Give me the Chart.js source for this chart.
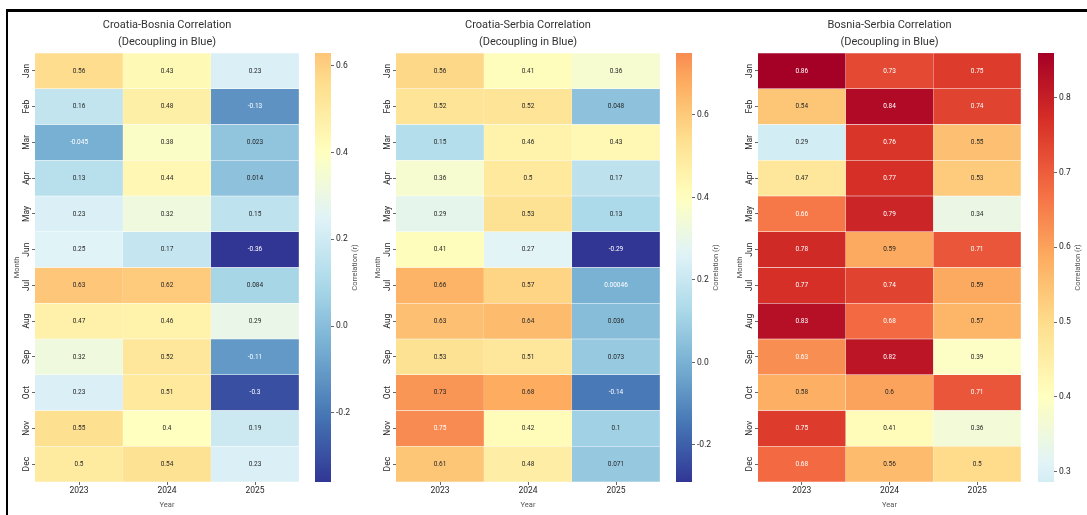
<!DOCTYPE html>
<html>
<head>
<meta charset="utf-8">
<script src="https://cdn.jsdelivr.net/npm/chart.js@4.4.1/dist/chart.umd.min.js"></script>
<style>
  body { margin: 0; background: #fff; }
  #page { position: relative; width: 1087px; height: 515px; overflow: hidden; }
  #frame { position: absolute; left: 6px; top: 9px; width: 1100px; height: 520px; border-top: 3px solid #000; border-left: 2px solid #000; }
  canvas { position: absolute; }
</style>
</head>
<body>
<div id="page">
  <div id="frame"></div>
  <canvas id="hm0"></canvas><canvas id="cb0"></canvas>
  <canvas id="hm1"></canvas><canvas id="cb1"></canvas>
  <canvas id="hm2"></canvas><canvas id="cb2"></canvas>
</div>
<script>
var months = ['Jan', 'Feb', 'Mar', 'Apr', 'May', 'Jun', 'Jul', 'Aug', 'Sep', 'Oct', 'Nov', 'Dec'];
var years = ['2023', '2024', '2025'];

// Croatia-Bosnia, one array per year (Jan..Dec)
var hrBa2023 = [0.56, 0.16, -0.045, 0.13, 0.23, 0.25, 0.63, 0.47, 0.32, 0.23, 0.55, 0.5];
var hrBa2024 = [0.43, 0.48, 0.38, 0.44, 0.32, 0.17, 0.62, 0.46, 0.52, 0.51, 0.4, 0.54];
var hrBa2025 = [0.23, -0.13, 0.023, 0.014, 0.15, -0.36, 0.084, 0.29, -0.11, -0.3, 0.19, 0.23];

// Croatia-Serbia
var hrRs2023 = [0.56, 0.52, 0.15, 0.36, 0.29, 0.41, 0.66, 0.63, 0.53, 0.73, 0.75, 0.61];
var hrRs2024 = [0.41, 0.52, 0.46, 0.5, 0.53, 0.27, 0.57, 0.64, 0.51, 0.68, 0.42, 0.48];
var hrRs2025 = [0.36, 0.048, 0.43, 0.17, 0.13, -0.29, 0.00046, 0.036, 0.073, -0.14, 0.1, 0.071];

// Bosnia-Serbia
var baRs2023 = [0.86, 0.54, 0.286, 0.47, 0.66, 0.78, 0.77, 0.83, 0.63, 0.58, 0.75, 0.68];
var baRs2024 = [0.73, 0.84, 0.76, 0.77, 0.79, 0.59, 0.74, 0.68, 0.82, 0.6, 0.41, 0.56];
var baRs2025 = [0.75, 0.74, 0.55, 0.53, 0.34, 0.71, 0.59, 0.57, 0.39, 0.71, 0.36, 0.5];

var titles = [
  ['Croatia-Bosnia Correlation', '(Decoupling in Blue)'],
  ['Croatia-Serbia Correlation', '(Decoupling in Blue)'],
  ['Bosnia-Serbia Correlation', '(Decoupling in Blue)']
];
var colorCenter = 0.4;

var panels = [
  { values: [hrBa2023, hrBa2024, hrBa2025], step: 0.2, left: 35, right: 299, barLeft: 315 },
  { values: [hrRs2023, hrRs2024, hrRs2025], step: 0.2, left: 396, right: 660, barLeft: 676 },
  { values: [baRs2023, baRs2024, baRs2025], step: 0.1, left: 758, right: 1021, barLeft: 1038 }
];

Chart.defaults.font.family = 'Roboto, "Open Sans", sans-serif';

// RdYlBu reversed
var cmapStops = ['#313695', '#4575b4', '#74add1', '#abd9e9', '#e0f3f8', '#ffffbf',
                 '#fee090', '#fdae61', '#f46d43', '#d73027', '#a50026'].map(function (h) {
  return [parseInt(h.substr(1, 2), 16), parseInt(h.substr(3, 2), 16), parseInt(h.substr(5, 2), 16)];
});

function cmap(t) {
  t = Math.max(0, Math.min(1, t));
  var x = t * 10, i = Math.min(9, Math.floor(x)), f = x - i;
  var a = cmapStops[i], b = cmapStops[i + 1];
  return [0, 1, 2].map(function (k) { return Math.round(a[k] + (b[k] - a[k]) * f); });
}

// same trick as seaborn's center=: symmetric range round the center, then cut to data range
function makeColorScale(vmin, vmax) {
  var vr = Math.max(vmax - colorCenter, colorCenter - vmin);
  return function (v) { return cmap(0.5 + (v - colorCenter) / (2 * vr)); };
}

function rgbStr(c) { return 'rgb(' + c[0] + ',' + c[1] + ',' + c[2] + ')'; }

function textColor(c) {
  var lin = c.map(function (v) {
    v = v / 255;
    return v <= 0.03928 ? v / 12.92 : Math.pow((v + 0.055) / 1.055, 2.4);
  });
  var lum = 0.2126 * lin[0] + 0.7152 * lin[1] + 0.0722 * lin[2];
  return lum > 0.408 ? 'rgb(38,38,38)' : '#ffffff';
}

function fmt2g(v) { return String(Number(v.toPrecision(2))); }

function cellLabels(values, colorOf) {
  return {
    id: 'cellLabels',
    afterDatasetsDraw: function (chart) {
      var ctx = chart.ctx;
      ctx.save();
      ctx.font = '6.5px Roboto';
      ctx.textAlign = 'center';
      ctx.textBaseline = 'middle';
      chart.data.datasets.forEach(function (ds, j) {
        chart.getDatasetMeta(j).data.forEach(function (bar, i) {
          var v = values[j][i];
          ctx.fillStyle = textColor(colorOf(v));
          ctx.fillText(fmt2g(v), (bar.x + bar.base) / 2, bar.y);
        });
      });
      ctx.restore();
    }
  };
}

function panelTitle(lines) {
  return {
    id: 'panelTitle',
    afterDraw: function (chart) {
      var ctx = chart.ctx, a = chart.chartArea;
      ctx.save();
      ctx.font = '11px Roboto';
      ctx.fillStyle = '#333';
      ctx.textAlign = 'center';
      ctx.textBaseline = 'middle';
      ctx.fillText(lines[0], (a.left + a.right) / 2, 13.5);
      ctx.fillText(lines[1], (a.left + a.right) / 2, 30.5);
      ctx.restore();
    }
  };
}

var barTitle = {
  id: 'barTitle',
  afterDraw: function (chart) {
    var ctx = chart.ctx, a = chart.chartArea;
    ctx.save();
    ctx.translate(a.right + 24, (a.top + a.bottom) / 2);
    ctx.rotate(-Math.PI / 2);
    ctx.font = '7.5px Roboto';
    ctx.fillStyle = '#555';
    ctx.textAlign = 'center';
    ctx.textBaseline = 'middle';
    ctx.fillText('Correlation (r)', 0, 0);
    ctx.restore();
  }
};

panels.forEach(function (p, n) {
  var all = [].concat(p.values[0], p.values[1], p.values[2]);
  var vmin = Math.min.apply(null, all), vmax = Math.max.apply(null, all);
  var colorOf = makeColorScale(vmin, vmax);

  var hm = document.getElementById('hm' + n);
  hm.width = p.right - p.left + 27;
  hm.height = 500;
  hm.style.left = (p.left - 27) + 'px';
  hm.style.top = '12px';

  new Chart(hm, {
    type: 'bar',
    data: {
      labels: months,
      datasets: years.map(function (y, j) {
        return {
          label: y,
          data: months.map(function () { return 1; }),
          backgroundColor: p.values[j].map(function (v) { return rgbStr(colorOf(v)); }),
          borderColor: 'rgba(255,255,255,0.15)',
          borderWidth: 0.5,
          barPercentage: 1,
          categoryPercentage: 1
        };
      })
    },
    options: {
      indexAxis: 'y',
      responsive: false,
      animation: false,
      layout: { padding: { top: 41 } },
      plugins: { legend: { display: false }, tooltip: { enabled: false } },
      scales: {
        x: {
          type: 'linear',
          stacked: true,
          min: 0,
          max: 3,
          afterBuildTicks: function (axis) {
            axis.ticks = years.map(function (y, i) { return { value: i + 0.5 }; });
          },
          ticks: {
            autoSkip: false,
            callback: function (v, i) { return years[i]; },
            font: { size: 8.5 },
            color: '#262626',
            padding: 1
          },
          grid: { drawOnChartArea: false, tickLength: 3, color: '#666' },
          border: { display: false },
          title: { display: true, text: 'Year', font: { size: 7.5 }, color: '#555', padding: { top: 0, bottom: 2 } },
          afterFit: function (s) { s.height = 30; }
        },
        y: {
          type: 'category',
          stacked: true,
          ticks: {
            minRotation: 90,
            maxRotation: 90,
            crossAlign: 'center',
            font: { size: 8.5 },
            color: '#262626',
            padding: -3
          },
          grid: { drawOnChartArea: false, offset: false, tickLength: 3, color: '#666' },
          border: { display: false },
          title: { display: true, text: 'Month', font: { size: 7.5 }, color: '#555', padding: { top: 5, bottom: 0 } },
          afterFit: function (s) { s.width = 27; }
        }
      }
    },
    plugins: [cellLabels(p.values, colorOf), panelTitle(titles[n])]
  });

  var cb = document.getElementById('cb' + n);
  cb.width = 60;
  cb.height = 449;
  cb.style.left = p.barLeft + 'px';
  cb.style.top = '43px';

  new Chart(cb, {
    type: 'bar',
    data: {
      labels: [''],
      datasets: [{
        data: [[vmin, vmax]],
        backgroundColor: function (ctx) {
          var a = ctx.chart.chartArea;
          if (!a) return null;
          var g = ctx.chart.ctx.createLinearGradient(0, a.bottom, 0, a.top);
          for (var k = 0; k <= 40; k++) {
            g.addColorStop(k / 40, rgbStr(colorOf(vmin + (vmax - vmin) * k / 40)));
          }
          return g;
        },
        borderWidth: 0,
        barPercentage: 1,
        categoryPercentage: 1
      }]
    },
    options: {
      responsive: false,
      animation: false,
      layout: { padding: { top: 10, bottom: 10 } },
      plugins: { legend: { display: false }, tooltip: { enabled: false } },
      scales: {
        x: { display: false },
        y: {
          position: 'right',
          min: vmin,
          max: vmax,
          ticks: {
            stepSize: p.step,
            includeBounds: false,
            callback: function (v) { return v.toFixed(1); },
            font: { size: 8.5 },
            color: '#262626',
            padding: 2
          },
          grid: { drawOnChartArea: false, tickLength: 3, color: '#666' },
          border: { display: false },
          afterFit: function (s) { s.width = 44; }
        }
      }
    },
    plugins: [barTitle]
  });
});
</script>
</body>
</html>
